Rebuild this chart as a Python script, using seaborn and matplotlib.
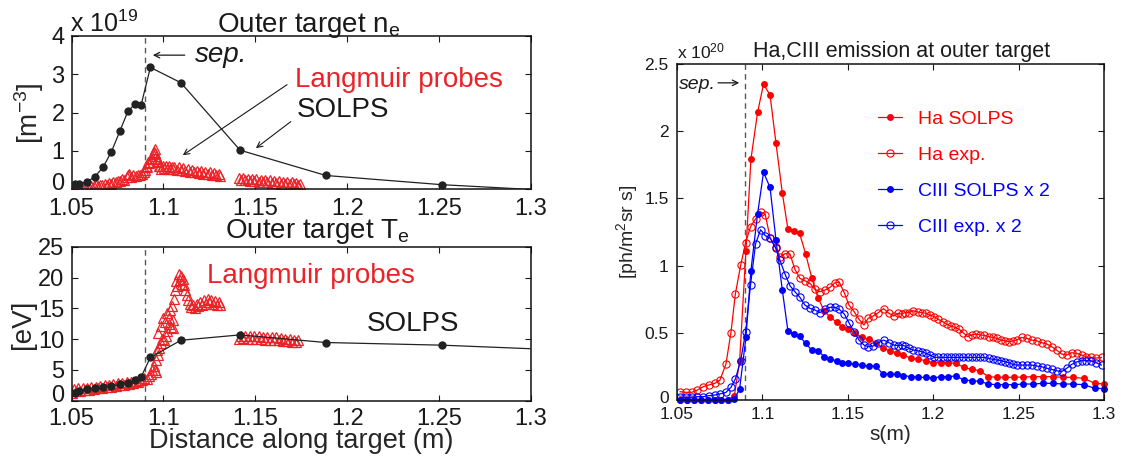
import matplotlib
matplotlib.use('Agg')
import matplotlib.pyplot as plt
import matplotlib.transforms as mtransforms
import seaborn as sns

# ---- data: outer target ne / Te (left panels) ----
s_solps_lt = [1.0519, 1.0542, 1.0582, 1.0627, 1.0672, 1.0717, 1.0764, 1.0807, 1.0845, 1.0879,
              1.0929, 1.1095, 1.1417, 1.1884, 1.2515, 1.3100]
ne_solps = [0.14, 0.15, 0.18, 0.33, 0.58, 0.98, 1.53, 2.04, 2.22, 2.21,
            3.18, 2.78, 1.02, 0.36, 0.12, -0.03]
te_solps = [1.3, 1.6, 1.85, 2.0, 2.17, 2.38, 2.65, 2.92, 3.35, 3.89,
            7.03, 9.83, 10.7, 9.46, 9.03, 8.33]

lp_ne_s = [1.0500, 1.0512, 1.0524, 1.0536, 1.0548, 1.0560, 1.0572, 1.0584, 1.0596, 1.0608,
           1.0620, 1.0632, 1.0644, 1.0656, 1.0668, 1.0680, 1.0692, 1.0704, 1.0716, 1.0728,
           1.0740, 1.0752, 1.0764, 1.0776, 1.0788, 1.0800, 1.0806, 1.0812, 1.0824, 1.0836,
           1.0848, 1.0860, 1.0872, 1.0884, 1.0896,
           1.0900, 1.0906, 1.0912, 1.0918, 1.0924, 1.0930, 1.0936, 1.0942, 1.0948, 1.0952,
           1.0956, 1.0960, 1.0964, 1.0968, 1.0972, 1.0976, 1.0980,
           1.0988, 1.0996, 1.1004, 1.1012, 1.1020, 1.1028, 1.1036, 1.1044, 1.1052, 1.1060,
           1.1072, 1.1084, 1.1096, 1.1108, 1.1120, 1.1132, 1.1144, 1.1156, 1.1168, 1.1180,
           1.1192, 1.1204, 1.1216, 1.1228, 1.1240, 1.1252, 1.1264, 1.1276, 1.1288, 1.1300, 1.1310,
           1.1410, 1.1422, 1.1434, 1.1446, 1.1458, 1.1470, 1.1482, 1.1494, 1.1506, 1.1518,
           1.1530, 1.1542, 1.1554, 1.1566, 1.1578, 1.1590, 1.1602, 1.1614, 1.1626, 1.1638,
           1.1650, 1.1662, 1.1674, 1.1686, 1.1698, 1.1710, 1.1722, 1.1734, 1.1744]
lp_ne = [0.02, 0.05, 0.03, 0.06, 0.04, 0.07, 0.05, 0.08, 0.06, 0.09,
         0.08, 0.11, 0.09, 0.12, 0.11, 0.14, 0.12, 0.16, 0.15, 0.19,
         0.18, 0.22, 0.21, 0.26, 0.25, 0.31, 0.38, 0.41, 0.33, 0.36,
         0.34, 0.38, 0.36, 0.41, 0.44,
         0.50, 0.62, 0.58, 0.72, 0.68, 0.82, 0.78, 0.92, 0.98, 1.05,
         0.94, 0.88, 0.80, 0.74, 0.70, 0.62, 0.60,
         0.52, 0.60, 0.55, 0.62, 0.54, 0.60, 0.53, 0.59, 0.52, 0.58,
         0.51, 0.57, 0.50, 0.55, 0.48, 0.53, 0.46, 0.51, 0.44, 0.49,
         0.43, 0.47, 0.41, 0.45, 0.40, 0.44, 0.38, 0.42, 0.36, 0.39, 0.34,
         0.30, 0.24, 0.29, 0.23, 0.28, 0.22, 0.27, 0.21, 0.26, 0.20,
         0.25, 0.19, 0.24, 0.18, 0.23, 0.17, 0.22, 0.16, 0.21, 0.15,
         0.20, 0.14, 0.19, 0.14, 0.18, 0.13, 0.17, 0.12, 0.15]

lp_te_s = [1.0500, 1.0512, 1.0524, 1.0536, 1.0548, 1.0560, 1.0572, 1.0584, 1.0596, 1.0608,
           1.0620, 1.0632, 1.0644, 1.0656, 1.0668, 1.0680, 1.0692, 1.0704, 1.0716, 1.0728,
           1.0740, 1.0752, 1.0764, 1.0776, 1.0788, 1.0800, 1.0812, 1.0824, 1.0836, 1.0848,
           1.0860, 1.0872, 1.0884, 1.0896, 1.0908, 1.0920, 1.0932, 1.0940, 1.0946, 1.0952, 1.0958,
           1.0962, 1.0966, 1.0970, 1.0972, 1.0978, 1.0984, 1.0988, 1.0994, 1.0998, 1.1004,
           1.1008, 1.1014, 1.1018, 1.1022, 1.1028, 1.1032, 1.1036, 1.1042, 1.1046, 1.1050,
           1.1054, 1.1058, 1.1064, 1.1070, 1.1076, 1.1082, 1.1088, 1.1094, 1.1100, 1.1106,
           1.1112, 1.1118, 1.1126, 1.1134, 1.1142, 1.1150, 1.1160, 1.1170, 1.1180, 1.1190,
           1.1200, 1.1210, 1.1220, 1.1230, 1.1240, 1.1250, 1.1260, 1.1270, 1.1280, 1.1290,
           1.1300, 1.1310,
           1.1410, 1.1422, 1.1434, 1.1446, 1.1458, 1.1470, 1.1482, 1.1494, 1.1506, 1.1518,
           1.1530, 1.1542, 1.1554, 1.1566, 1.1578, 1.1590, 1.1602, 1.1614, 1.1626, 1.1638,
           1.1650, 1.1662, 1.1674, 1.1686, 1.1698, 1.1710, 1.1722, 1.1734]
lp_te = [1.2, 1.9, 1.5, 2.0, 1.6, 2.0, 1.7, 2.1, 1.8, 2.2,
         1.9, 2.3, 2.0, 2.4, 2.1, 2.5, 2.2, 2.6, 2.3, 2.7,
         2.4, 2.8, 2.5, 2.9, 2.6, 3.0, 2.7, 3.1, 2.8, 3.2,
         3.0, 3.4, 3.3, 3.7, 3.6, 4.0, 4.4, 5.0, 5.6, 5.0, 4.6,
         6.6, 8.2, 7.4, 11.0, 8.6, 9.4, 12.2, 10.0, 13.4, 9.8,
         12.8, 10.6, 14.2, 11.4, 13.4, 12.4, 14.8, 12.0, 15.4, 13.2,
         11.8, 16.6, 18.0, 19.4, 18.6, 20.6, 19.6, 20.2, 19.0, 19.8,
         18.8, 18.0, 17.2, 16.4, 15.8, 15.2, 15.6, 15.0, 15.8, 15.4,
         16.0, 15.6, 16.4, 15.8, 16.6, 16.0, 16.4, 15.8, 16.2, 15.6,
         16.0, 15.5,
         10.1, 10.6, 10.2, 10.6, 10.1, 10.5, 10.1, 10.5, 10.0, 10.5,
         10.0, 10.4, 9.9, 10.4, 9.9, 10.3, 9.8, 10.3, 9.8, 10.2,
         9.7, 10.1, 9.7, 10.0, 9.6, 9.9, 9.5, 9.8]

# ---- data: Ha / CIII emission (right panel), units 1e20 ----
s_solps = [1.0520, 1.0560, 1.0600, 1.0640, 1.0680, 1.0720, 1.0760, 1.0800, 1.0836, 1.0867,
           1.0904, 1.0933, 1.0972, 1.1007, 1.1045, 1.1080, 1.1117, 1.1150, 1.1183, 1.1218,
           1.1253, 1.1289, 1.1327, 1.1362, 1.1398, 1.1435, 1.1468, 1.1503, 1.1542, 1.1585,
           1.1624, 1.1666, 1.1706, 1.1747, 1.1789, 1.1825, 1.1870, 1.1913, 1.1956, 1.2001,
           1.2046, 1.2088, 1.2133, 1.2180, 1.2225, 1.2274, 1.2323, 1.2372, 1.2420, 1.2473,
           1.2527, 1.2586, 1.2644, 1.2700, 1.2758, 1.2817, 1.2883, 1.2947, 1.3000]
ha_solps = [0, 0, 0, 0, 0, 0, 0, 0, 0.03, 0.29,
            1.11, 1.79, 2.14, 2.35, 2.27, 1.91, 1.54, 1.27, 1.255, 1.24,
            1.09, 0.91, 0.757, 0.665, 0.615, 0.58, 0.545, 0.526, 0.496, 0.466,
            0.452, 0.427, 0.385, 0.367, 0.35, 0.335, 0.31, 0.303, 0.293, 0.278,
            0.278, 0.278, 0.273, 0.243, 0.228, 0.218, 0.174, 0.169, 0.169, 0.169,
            0.171, 0.174, 0.174, 0.174, 0.169, 0.169, 0.161, 0.124, 0.12]
ciii_solps = [0, 0, 0, 0, 0, 0, 0, 0, 0.005, 0.082,
              0.467, 0.962, 1.384, 1.694, 1.582, 1.19, 0.818, 0.512, 0.491, 0.476,
              0.422, 0.372, 0.367, 0.322, 0.303, 0.293, 0.273, 0.273, 0.268, 0.26,
              0.253, 0.25, 0.193, 0.193, 0.19, 0.182, 0.174, 0.169, 0.169, 0.164,
              0.174, 0.174, 0.179, 0.149, 0.144, 0.139, 0.119, 0.114, 0.114, 0.114,
              0.119, 0.119, 0.124, 0.124, 0.119, 0.119, 0.114, 0.087, 0.085]

s_exp = [1.0518, 1.0553, 1.0586, 1.0619, 1.0654, 1.0687, 1.0722, 1.0752, 1.0787, 1.0816,
         1.0842, 1.0873, 1.0902, 1.0931, 1.0960, 1.0990, 1.1017, 1.1046, 1.1078, 1.1103,
         1.1135, 1.1162, 1.1191, 1.1220, 1.1249, 1.1279, 1.1308, 1.1337, 1.1367, 1.1396,
         1.1425, 1.1450, 1.1480, 1.1507, 1.1538, 1.1566, 1.1595, 1.1620, 1.1649, 1.1679,
         1.1710, 1.1741, 1.1769, 1.1795, 1.1815, 1.1835, 1.1858, 1.1883, 1.1909, 1.1933,
         1.1958, 1.1981, 1.2007, 1.2030, 1.2056, 1.2079, 1.2104, 1.2128, 1.2153, 1.2176,
         1.2202, 1.2225, 1.2251, 1.2276, 1.2299, 1.2325, 1.2348, 1.2374, 1.2397, 1.2420,
         1.2444, 1.2467, 1.2489, 1.2518, 1.2547, 1.2577, 1.2606, 1.2635, 1.2665, 1.2694,
         1.2723, 1.2752, 1.2782, 1.2811, 1.2840, 1.2870, 1.2895, 1.2922, 1.2953, 1.2986]
ha_exp = [0.062, 0.057, 0.057, 0.074, 0.099, 0.112, 0.124, 0.149, 0.268, 0.501,
          0.789, 1.002, 1.171, 1.29, 1.347, 1.40, 1.38, 1.205, 1.136, 1.066,
          1.09, 1.086, 0.972, 0.905, 0.888, 0.868, 0.823, 0.806, 0.818, 0.838,
          0.873, 0.878, 0.798, 0.707, 0.657, 0.600, 0.558, 0.608, 0.625, 0.650,
          0.680, 0.645, 0.625, 0.645, 0.640, 0.650, 0.650, 0.665, 0.655, 0.650,
          0.645, 0.632, 0.620, 0.600, 0.583, 0.565, 0.550, 0.541, 0.526, 0.501,
          0.471, 0.484, 0.491, 0.484, 0.481, 0.471, 0.466, 0.459, 0.446, 0.441,
          0.434, 0.440, 0.446, 0.466, 0.459, 0.446, 0.441, 0.427, 0.417, 0.397,
          0.372, 0.342, 0.335, 0.352, 0.347, 0.335, 0.322, 0.317, 0.312, 0.317]
ciii_exp = [0.020, 0.020, 0.020, 0.025, 0.025, 0.032, 0.037, 0.045, 0.057, 0.094,
            0.156, 0.293, 0.504, 0.858, 1.161, 1.267, 1.223, 1.205, 1.13, 1.04,
            0.93, 0.85, 0.806, 0.764, 0.707, 0.682, 0.670, 0.650, 0.675, 0.690,
            0.690, 0.675, 0.640, 0.575, 0.508, 0.446, 0.409, 0.397, 0.402, 0.427,
            0.446, 0.427, 0.409, 0.405, 0.409, 0.402, 0.385, 0.372, 0.367, 0.360,
            0.347, 0.335, 0.317, 0.317, 0.317, 0.317, 0.317, 0.317, 0.317, 0.317,
            0.317, 0.317, 0.317, 0.317, 0.317, 0.310, 0.303, 0.298, 0.293, 0.285,
            0.278, 0.265, 0.260, 0.260, 0.260, 0.260, 0.253, 0.248, 0.236, 0.228,
            0.218, 0.211, 0.236, 0.265, 0.283, 0.293, 0.293, 0.293, 0.278, 0.260]

sep = 1.09
x_ticks = [1.05, 1.1, 1.15, 1.2, 1.25, 1.3]
x_labels = ['1.05', '1.1', '1.15', '1.2', '1.25', '1.3']

sns.set_style('ticks')
plt.rcParams['font.family'] = ['Liberation Sans', 'DejaVu Sans']
plt.rcParams['mathtext.fontset'] = 'custom'
plt.rcParams['mathtext.rm'] = 'Liberation Sans'
plt.rcParams['mathtext.it'] = 'Liberation Sans:italic'

red_l = '#ec2228'
red = '#ff0000'
blue = '#0000ff'

fig = plt.figure(figsize=(11.23, 4.59), dpi=100)
ax1 = fig.add_axes([0.0637, 0.5876, 0.4092, 0.334])
ax2 = fig.add_axes([0.0637, 0.127, 0.4092, 0.335])
ax3 = fig.add_axes([0.6028, 0.1285, 0.3802, 0.732])


def style_axis(ax, size, xpad, ypad):
    ax.set_xlim(1.05, 1.3)
    ax.set_xticks(x_ticks)
    ax.set_xticklabels(x_labels)
    ax.tick_params(direction='in', top=True, right=True, length=4, width=0.8,
                   labelsize=size, colors='#1a1a1a')
    ax.tick_params(axis='x', pad=xpad)
    ax.tick_params(axis='y', pad=ypad)
    for sp in ax.spines.values():
        sp.set_linewidth(1.1)
        sp.set_color('#111111')
    ax.axvline(sep, color='0.35', ls='--', lw=1.0, dashes=(4, 3), zorder=1)


def raise_zero_label(ax, px):
    lab = ax.get_yticklabels()[0]
    lab.set_transform(lab.get_transform() +
                      mtransforms.ScaledTranslation(0, px / 100, fig.dpi_scale_trans))


# --- top left: ne ---
sns.lineplot(x=lp_ne_s, y=lp_ne, ax=ax1, linestyle='none', marker='^', markersize=6.5,
             markerfacecolor='none', markeredgecolor=red_l, markeredgewidth=0.9,
             estimator=None, sort=False, zorder=2)
sns.lineplot(x=s_solps_lt, y=ne_solps, ax=ax1, color='#222222', lw=0.9, marker='o',
             markersize=6, markeredgewidth=0, estimator=None, sort=False, zorder=3)
style_axis(ax1, 17, 6, 5)
ax1.set_ylim(0, 4)
ax1.set_yticks([0, 1, 2, 3, 4])
ax1.set_yticklabels(['0', '1', '2', '3', '4'])
raise_zero_label(ax1, 8)
ax1.set_ylabel('[m$^{-3}$]', fontsize=20, labelpad=4)
ax1.text(0.517, 1.025, 'Outer target n$_\\mathrm{e}$', transform=ax1.transAxes,
         ha='center', va='baseline', fontsize=20, color='#1a1a1a')
fig.text(69.6 / 1123, 1 - 32 / 459, 'x 10$^{19}$', fontsize=18, va='baseline', color='#1a1a1a')
ax1.text(1.117, 3.5, 'sep.', fontsize=20, style='italic', va='center', color='#1a1a1a')
ax1.annotate('', xy=(1.0927, 3.5), xytext=(1.1131, 3.5),
             arrowprops=dict(arrowstyle='->', color='#1a1a1a', lw=0.9))
ax1.text(1.1716, 2.84, 'Langmuir probes', fontsize=20, color=red_l, va='center')
ax1.text(1.1724, 2.07, 'SOLPS', fontsize=20, color='#1a1a1a', va='center')
ax1.annotate('', xy=(1.1093, 0.85), xytext=(1.1685, 2.77),
             arrowprops=dict(arrowstyle='->', color='#1a1a1a', lw=0.8))
ax1.annotate('', xy=(1.1491, 1.03), xytext=(1.1705, 1.81),
             arrowprops=dict(arrowstyle='->', color='#1a1a1a', lw=0.8))

# --- bottom left: Te ---
sns.lineplot(x=lp_te_s, y=lp_te, ax=ax2, linestyle='none', marker='^', markersize=6.5,
             markerfacecolor='none', markeredgecolor=red_l, markeredgewidth=0.9,
             estimator=None, sort=False, zorder=2)
sns.lineplot(x=s_solps_lt, y=te_solps, ax=ax2, color='#222222', lw=0.9, marker='o',
             markersize=6, markeredgewidth=0, estimator=None, sort=False, zorder=3)
style_axis(ax2, 17, 5, 5)
ax2.set_ylim(0, 25)
ax2.set_yticks([0, 5, 10, 15, 20, 25])
ax2.set_yticklabels(['0', '5', '10', '15', '20', '25'])
raise_zero_label(ax2, 7)
ax2.set_ylabel('[eV]', fontsize=20, labelpad=2)
ax2.set_xlabel('Distance along target (m)', fontsize=19.5, labelpad=-1)
ax2.text(0.535, 1.055, 'Outer target T$_\\mathrm{e}$', transform=ax2.transAxes,
         ha='center', va='baseline', fontsize=20, color='#1a1a1a')
ax2.text(1.1236, 20.2, 'Langmuir probes', fontsize=20, color=red_l, va='center')
ax2.text(1.2107, 12.4, 'SOLPS', fontsize=20, color='#1a1a1a', va='center')

# --- right: Ha / CIII emission ---
sns.lineplot(x=s_solps, y=ha_solps, ax=ax3, color=red, lw=0.9, marker='o', markersize=5,
             markeredgewidth=0, estimator=None, sort=False, label='Ha SOLPS', clip_on=False)
sns.lineplot(x=s_exp, y=ha_exp, ax=ax3, color=red, lw=0.9, marker='o', markersize=5.2,
             markerfacecolor='none', markeredgecolor=red, markeredgewidth=0.8,
             estimator=None, sort=False, label='Ha exp.')
sns.lineplot(x=s_solps, y=ciii_solps, ax=ax3, color=blue, lw=0.9, marker='o', markersize=5,
             markeredgewidth=0, estimator=None, sort=False, label='CIII SOLPS x 2', clip_on=False)
sns.lineplot(x=s_exp, y=ciii_exp, ax=ax3, color=blue, lw=0.9, marker='o', markersize=5.2,
             markerfacecolor='none', markeredgecolor=blue, markeredgewidth=0.8,
             estimator=None, sort=False, label='CIII exp. x 2')
style_axis(ax3, 12.5, 5, 6)
ax3.set_ylim(0, 2.5)
ax3.set_yticks([0, 0.5, 1, 1.5, 2, 2.5])
ax3.set_yticklabels(['0', '0.5', '1', '1.5', '2', '2.5'])
raise_zero_label(ax3, 3)
ax3.set_ylabel('[ph/m$^2$sr s]', fontsize=14, labelpad=3)
ax3.set_xlabel('s(m)', fontsize=15, labelpad=2)
fig.text(902 / 1123, 1 - 57 / 459, 'Ha,CIII emission at outer target', ha='center',
         va='baseline', fontsize=15.5, color='#1a1a1a')
fig.text(677 / 1123, 1 - 58 / 459, 'x 10$^{20}$', fontsize=12.5, va='baseline', color='#1a1a1a')
ax3.text(1.051, 2.35, 'sep.', fontsize=14, style='italic', va='center', color='#1a1a1a')
ax3.annotate('', xy=(1.0881, 2.36), xytext=(1.0724, 2.36),
             arrowprops=dict(arrowstyle='->', color='#1a1a1a', lw=0.9))
ax3.legend(loc='upper left', bbox_to_anchor=(0.471, 0.862), frameon=False, fontsize=14,
           handlelength=1.25, handletextpad=0.8, labelspacing=0.95, borderaxespad=0,
           borderpad=0, labelcolor=[red, red, blue, blue])

fig.savefig('out.png', dpi=100)
